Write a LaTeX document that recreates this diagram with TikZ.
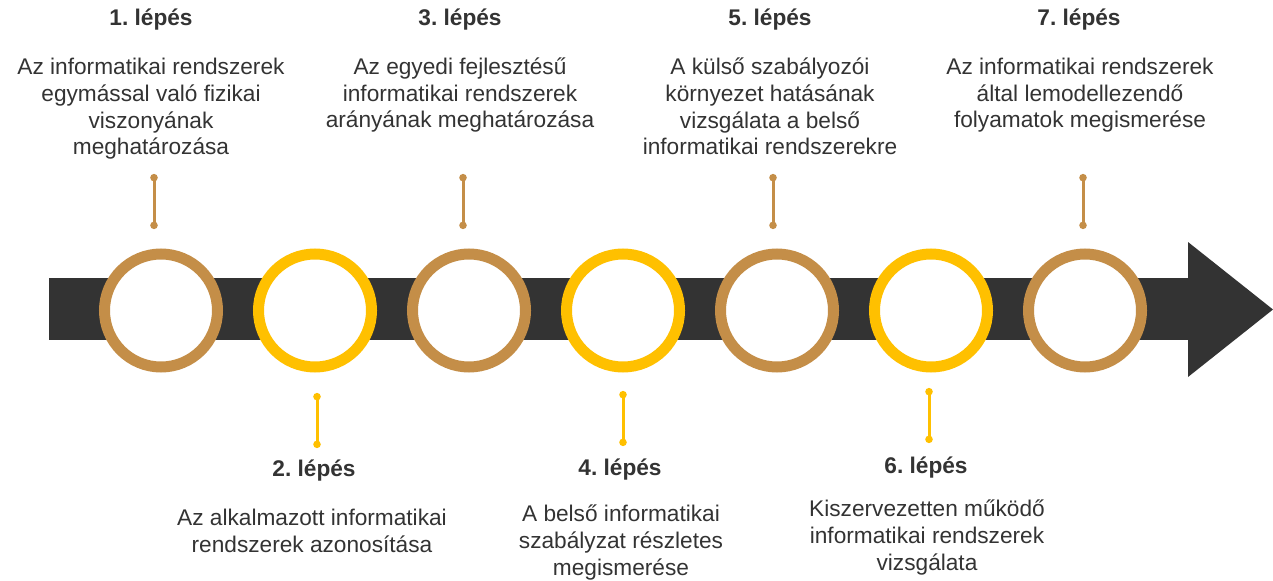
\documentclass[tikz,border=0pt]{standalone}
\usepackage{fontspec}
\setmainfont{Liberation Sans}
\usetikzlibrary{arrows.meta}
\definecolor{barna}{HTML}{C48E48}
\definecolor{sarga}{HTML}{FFC000}
\definecolor{sotet}{HTML}{333333}
\begin{document}
\begin{tikzpicture}[x=0.75pt,y=-0.75pt,
	gyuru/.style={circle,draw,line width=8.25pt,fill=white,minimum size=84.75pt,inner sep=0pt},
	cim/.style={font=\fontsize{17}{20}\selectfont\bfseries\frenchspacing,text=sotet,inner sep=0pt,anchor=base},
	leiras/.style={font=\fontsize{17}{20}\selectfont,text=sotet,align=center,inner sep=0pt,anchor=base},
	szar/.style={line width=2.25pt,{Circle[length=5.5pt]}-{Circle[length=5.5pt]}}]
\useasboundingbox (0,0) rectangle (1273,581);
% idovonal
\fill[sotet] (49,278) rectangle (1190,340);
\fill[sotet] (1188,242) -- (1273,309.5) -- (1188,377) -- cycle;
\foreach \k/\szin in {1/barna,2/sarga,3/barna,4/sarga,5/barna,6/sarga,7/barna}{
	\node[gyuru,draw=\szin] (k\k) at ({161+154*(\k-1)},310.5) {};
}
% felso lepesek
\foreach \n/\x/\sx in {1/151/154,3/460/463,5/770/773,7/1079/1083}{
	\node[cim] (cim\n) at (\x,26) {\n. lépés};
	\coordinate (f\n) at (\sx,174);
	\coordinate (a\n) at (\sx,229);
	\draw[szar,barna] (f\n) -- (a\n);
}
% also lepesek
\foreach \n/\x/\sx/\y/\sy in {2/314/317/476/393,4/620/623/475/391,6/926/929/473/388}{
	\node[cim] (cim\n) at (\x,\y) {\n. lépés};
	\coordinate (f\n) at (\sx,\sy);
	\coordinate (a\n) at (\sx,\sy+55);
	\draw[szar,sarga] (f\n) -- (a\n);
}
% leirasok (base = utolso sor alapvonala)
\node[leiras] (le1) at (151,155) {Az informatikai rendszerek\\egymással való fizikai\\viszonyának\\meghatározása};
\node[leiras] (le3) at (460,128) {Az egyedi fejlesztésű\\informatikai rendszerek\\arányának meghatározása};
\node[leiras] (le5) at (770,155) {A külső szabályozói\\környezet hatásának\\vizsgálata a belső\\informatikai rendszerekre};
\node[leiras] (le7) at (1080,128) {Az informatikai rendszerek\\által lemodellezendő\\folyamatok megismerése};
\node[leiras] (le2) at (312,552) {Az alkalmazott informatikai\\rendszerek azonosítása};
\node[leiras] (le4) at (621,575) {A belső informatikai\\szabályzat részletes\\megismerése};
\node[leiras] (le6) at (927,570) {Kiszervezetten működő\\informatikai rendszerek\\vizsgálata};
\end{tikzpicture}
\end{document}
